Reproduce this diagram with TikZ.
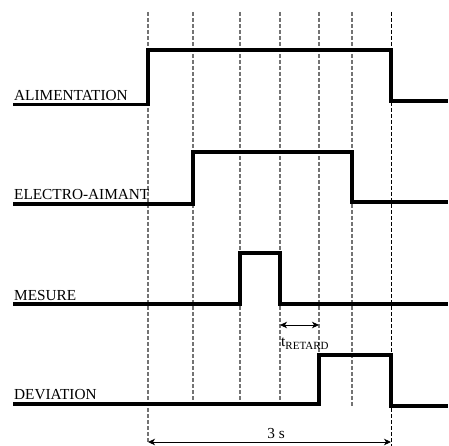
\documentclass[tikz,border=0pt]{standalone}
\usepackage{fontspec}
\setmainfont{Liberation Serif}
\usetikzlibrary{arrows.meta}
\begin{document}
\begin{tikzpicture}[x=1pt,y=-1pt,
  sig/.style={line width=3.5pt, line join=miter, line cap=butt},
  gridg/.style={black!55, line width=1.2pt, dash pattern=on 4pt off 2pt},
  gridk/.style={black, line width=0.9pt, dash pattern=on 4pt off 2pt},
  lbl/.style={anchor=base west, inner sep=0pt, font=\fontsize{15.3}{18}\selectfont},
  dimarrow/.style={line width=0.9pt, {Stealth[length=7pt,width=6.5pt,inset=2pt]}-{Stealth[length=7pt,width=6.5pt,inset=2pt]}}
]
\useasboundingbox (0,0) rectangle (449,446);

% time guides
\draw[gridg] (148,12) -- (148,442);
\draw[gridg] (193,12) -- (193,406);
\draw[gridg] (240,12) -- (240,406);
\draw[gridg] (280,12) -- (280,406);
\draw[gridg] (319,12) -- (319,406);
\draw[gridg] (352,12) -- (352,406);
\draw[gridk] (391,12) -- (391,446);

% signals
\draw[sig] (13,104.5) -- (148,104.5) -- (148,50) -- (391,50) -- (391,101) -- (448,101);
\draw[sig] (13,204) -- (193,204) -- (193,152) -- (352,152) -- (352,202) -- (448,202);
\draw[sig] (13,304) -- (240,304) -- (240,253) -- (280,253) -- (280,304) -- (448,304);
\draw[sig] (13,404) -- (319,404) -- (319,355) -- (391,355) -- (391,406) -- (448,406);

% labels
\node[lbl] (alim) at (14,101) {ALIMENTATION};
\node[lbl] (elec) at (14,200) {ELECTRO-AIMANT};
\node[lbl] (mes) at (14,300) {MESURE};
\node[lbl] (dev) at (14,399.5) {DEVIATION};

% t retard
\coordinate (ra) at (280,325);
\coordinate (rb) at (319,325);
\draw[dimarrow] (ra) -- (rb);
\node[lbl] (tret) at (281,346) {t\raisebox{-3.5pt}{\fontsize{11}{13}\selectfont RETARD}};

% 3 s
\coordinate (sa) at (148,442);
\coordinate (sb) at (391,442);
\draw[dimarrow] (sa) -- (sb);
\node[lbl, anchor=base] (trois) at (276,438.5) {3 s};
\end{tikzpicture}
\end{document}
